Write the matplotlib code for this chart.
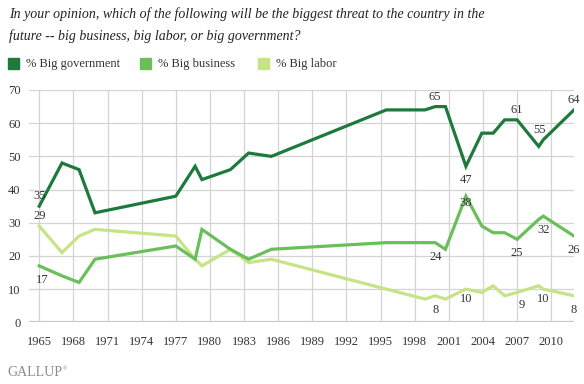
import matplotlib
matplotlib.use("Agg")
import matplotlib.pyplot as plt
from matplotlib.patches import Rectangle

# survey dates (fractional years)
years = [1965.0, 1967.0, 1968.5, 1969.9, 1977.0, 1978.7, 1979.3, 1981.8,
         1983.4, 1985.4, 1995.5, 1998.9, 1999.8, 2000.7, 2002.5, 2003.9,
         2004.9, 2005.9, 2007.0, 2008.9, 2009.3, 2012.0]
big_government = [35, 48, 46, 33, 38, 47, 43, 46, 51, 50, 64, 64, 65, 65,
                  47, 57, 57, 61, 61, 53, 55, 64]
big_business = [17, 14, 12, 19, 23, 19, 28, 22, 19, 22, 24, 24, 24, 22,
                38, 29, 27, 27, 25, 31, 32, 26]
big_labor = [29, 21, 26, 28, 26, 19, 17, 22, 18, 19, 10, 7, 8, 7,
             10, 9, 11, 8, 9, 11, 10, 8]

series_names = ["% Big government", "% Big business", "% Big labor"]
colors = ["#1e7a3c", "#6abf5a", "#c6e486"]

xticks = list(range(1965, 2011, 3))
yticks = list(range(0, 71, 10))

# which points carry a value label: (series index, point index, dx, dy in points)
labels = [
    (0, 0, 0, 7), (0, 12, 0, 7), (0, 14, 0, -10), (0, 18, 0, 7),
    (0, 20, -3, 7), (0, 21, 0, 7),
    (1, 0, 2, -10), (1, 12, 0, -10), (1, 14, 0, -5), (1, 18, 0, -10),
    (1, 20, 0, -10), (1, 21, 0, -10),
    (2, 0, 0, 7), (2, 12, 0, -10), (2, 14, 0, -7), (2, 18, 3, -9),
    (2, 20, 0, -7), (2, 21, 0, -10),
]

serif = "Liberation Serif"
text_col = "#333333"

fig = plt.figure(figsize=(5.84, 3.84), dpi=100)
ax = fig.add_axes([29 / 584, (384 - 322.3) / 384, 545 / 584, 232.3 / 384])

all_series = [big_government, big_business, big_labor]
for vals, col in zip(all_series[::-1], colors[::-1]):
    ax.plot(years, vals, color=col, lw=2.3, solid_joinstyle="miter", zorder=3)

for si, pi, dx, dy in labels:
    ax.annotate(str(all_series[si][pi]), (years[pi], all_series[si][pi]),
                xytext=(dx, dy), textcoords="offset points", ha="center",
                va="center", fontsize=9, family=serif, color=text_col, zorder=4)

ax.set_xlim(1964.1, 2012.0)
ax.set_ylim(0, 70)
ax.set_xticks(xticks)
ax.set_yticks(yticks)
ax.grid(True, color="#d4d4d4", lw=0.9, zorder=0)
ax.axhline(0, color="#c8c8c8", lw=1.6, zorder=1)
for s in ax.spines.values():
    s.set_visible(False)
ax.tick_params(length=0, labelsize=9, labelcolor=text_col, pad=6)
ax.tick_params(axis="x", pad=10)
for lab in ax.get_xticklabels() + ax.get_yticklabels():
    lab.set_family(serif)

fig.text(9 / 584, 1 - 14 / 384,
         "In your opinion, which of the following will be the biggest threat to the country in the",
         family=serif, style="italic", fontsize=10, color="#222222", va="center")
fig.text(9 / 584, 1 - 36 / 384,
         "future -- big business, big labor, or big government?",
         family=serif, style="italic", fontsize=10, color="#222222", va="center")

# legend
leg_x = [8, 140, 258]
for x0, name, col in zip(leg_x, series_names, colors):
    fig.add_artist(Rectangle((x0 / 584, 1 - 69 / 384), 11 / 584, 11 / 384,
                             transform=fig.transFigure, color=col))
    fig.text((x0 + 18) / 584, 1 - 63.5 / 384, name, family=serif,
             fontsize=9, color=text_col, va="center")

fig.text(7 / 584, 1 - 373 / 384, "GALLUP", family=serif, fontsize=10,
         color="#8a8a8a", va="center")
fig.text(63 / 584, 1 - 369 / 384, "\u00ae", family=serif, fontsize=4,
         color="#8a8a8a", va="center")

fig.savefig("out.png", dpi=100)
